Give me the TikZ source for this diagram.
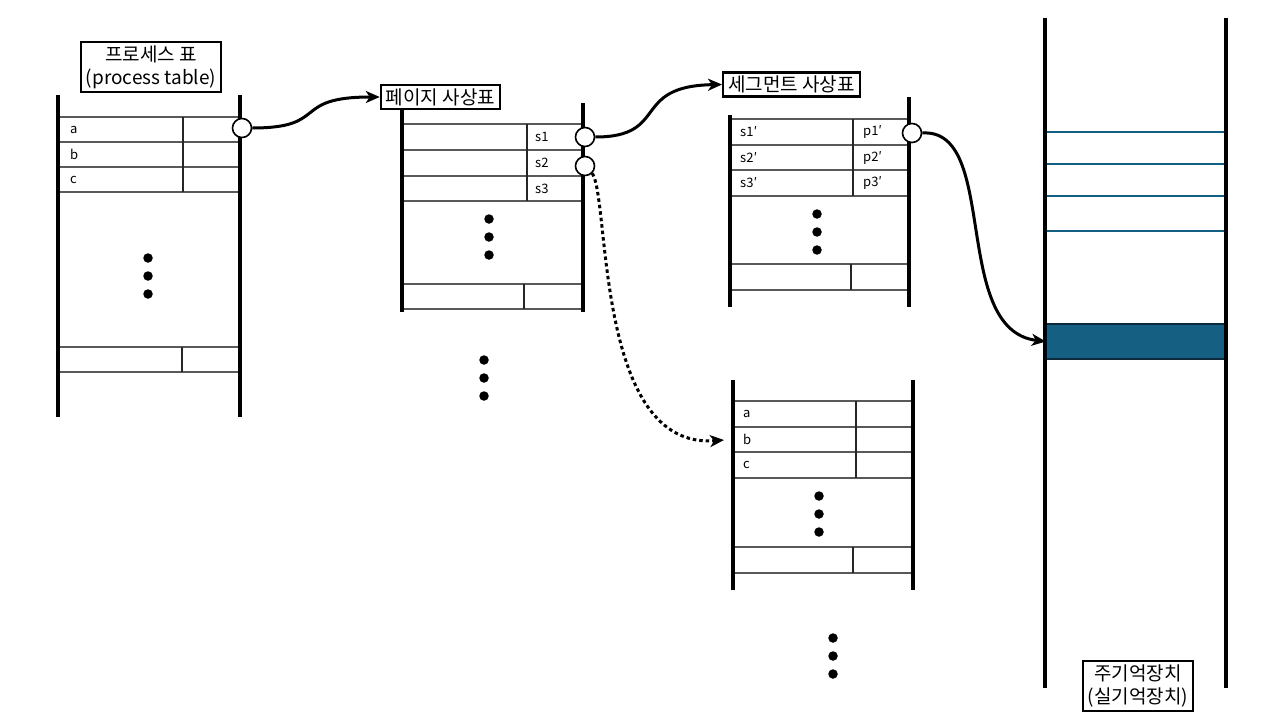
\documentclass[tikz,border=0pt]{standalone}
\usepackage{fontspec}
\setmainfont{Noto Sans CJK KR}
\usetikzlibrary{arrows.meta}
\definecolor{memblue}{HTML}{155F82}
\definecolor{memdark}{HTML}{0D2B3A}
\tikzset{
  rail/.style={line width=4pt},
  rowline/.style={line width=1.3pt, draw=black!65},
  divline/.style={line width=1.1pt, draw=black!85},
  lbl/.style={anchor=west, inner sep=0pt, font=\fontsize{13}{15}\selectfont},
  titlebox/.style={draw, line width=2.3pt, fill=white, align=center, inner xsep=5pt, inner ysep=3.5pt, font=\fontsize{19}{23}\selectfont},
  ring/.style={circle, draw, line width=1.6pt, fill=white, minimum size=19pt, inner sep=0pt},
  dotm/.style={circle, fill=black, minimum size=9.5pt, inner sep=0pt},
  link/.style={line width=3pt, -{Stealth[length=14pt,width=12pt,inset=4pt]}},
  memline/.style={line width=1.8pt, draw=memblue}
}
\begin{document}
\begin{tikzpicture}[x=1pt,y=-1pt]
\useasboundingbox (0,0) rectangle (1280,720);
% ---------- process table ----------
\foreach \yy in {117,142,167,192,347,372} \draw[rowline] (60,\yy) -- (242,\yy);
\draw[divline] (183,117) -- (183,192);
\draw[divline] (182,347) -- (182,372);
\draw[rail] (58,95) -- (58,417);
\draw[rail] (240,95) -- (240,417);
\node[lbl] (pa) at (70,129.5) {a};
\node[lbl] (pb) at (70,154.5) {b};
\node[lbl] (pc) at (70,179.5) {c};
\node[dotm] (pd1) at (148,258) {};
\node[dotm] (pd2) at (148,276) {};
\node[dotm] (pd3) at (148,294) {};
\node[titlebox] (ptitle) at (151,67) {프로세스 표\\(process table)};
\node[ring] (pring) at (242,128) {};
% ---------- page table ----------
\foreach \yy in {124,150,176,201,284,309} \draw[rowline] (404,\yy) -- (583,\yy);
\draw[divline] (527,124) -- (527,201);
\draw[divline] (524,284) -- (524,309);
\draw[rail] (402,110) -- (402,312);
\draw[rail] (583,103) -- (583,312);
\node[lbl] (s1) at (535,137) {s1};
\node[lbl] (s2) at (535,163) {s2};
\node[lbl] (s3) at (535,189) {s3};
\node[dotm] (gd1) at (489,219) {};
\node[dotm] (gd2) at (489,237) {};
\node[dotm] (gd3) at (489,255) {};
\node[titlebox] (gtitle) at (440.5,97) {페이지 사상표};
\node[ring] (gring1) at (585,137) {};
\node[ring] (gring2) at (585,166) {};
\node[dotm] (hd1) at (484,360) {};
\node[dotm] (hd2) at (484,378) {};
\node[dotm] (hd3) at (484,396) {};
% ---------- segment table ----------
\foreach \yy in {119,145,170,196,264,290} \draw[rowline] (732,\yy) -- (911,\yy);
\draw[divline] (853,119) -- (853,196);
\draw[divline] (851,264) -- (851,290);
\draw[rail] (730,115) -- (730,307);
\draw[rail] (909,97) -- (909,307);
\node[lbl] (q1) at (740,132) {s1′};
\node[lbl] (q2) at (740,157.5) {s2′};
\node[lbl] (q3) at (740,183) {s3′};
\node[lbl] (r1) at (863,132) {p1′};
\node[lbl] (r2) at (863,157.5) {p2′};
\node[lbl] (r3) at (863,183) {p3′};
\node[dotm] (sd1) at (817,214) {};
\node[dotm] (sd2) at (817,232) {};
\node[dotm] (sd3) at (817,250) {};
\node[titlebox] (stitle) at (791.5,84.5) {세그먼트 사상표};
\node[ring] (sring) at (912,133) {};
% ---------- second page table ----------
\foreach \yy in {401,427,452,478,547,573} \draw[rowline] (735,\yy) -- (915,\yy);
\draw[divline] (856,401) -- (856,478);
\draw[divline] (853,547) -- (853,573);
\draw[rail] (733,380) -- (733,590);
\draw[rail] (913,380) -- (913,590);
\node[lbl] (ta) at (743,414) {a};
\node[lbl] (tb) at (743,439.5) {b};
\node[lbl] (tc) at (743,465) {c};
\node[dotm] (td1) at (819,496) {};
\node[dotm] (td2) at (819,514) {};
\node[dotm] (td3) at (819,532) {};
\node[dotm] (ud1) at (833,638) {};
\node[dotm] (ud2) at (833,656) {};
\node[dotm] (ud3) at (833,674) {};
\coordinate (tbin) at (724,440);
% ---------- main memory ----------
\foreach \yy in {132,164,196,231} \draw[memline] (1047,\yy) -- (1224,\yy);
\node[draw=memdark, line width=1.5pt, fill=memblue, minimum width=178pt, minimum height=35pt, inner sep=0pt] (mblock) at (1135.5,341.5) {};
\draw[rail] (1045,18) -- (1045,688);
\draw[rail] (1226,18) -- (1226,688);
\node[titlebox] (mtitle) at (1138,686) {주기억장치\\(실기억장치)};
% ---------- connectors ----------
\draw[link] (pring.east) .. controls (330,128) and (290,97) .. (gtitle.west);
\draw[link] (gring1.east) .. controls (670,137) and (630,86) .. (stitle.west);
\draw[link] (sring.east) .. controls (1000,128) and (950,330) .. (mblock.west);
\draw[link, dash pattern=on 3.5pt off 3pt] (gring2.south east) .. controls (610,200) and (595,450) .. (tbin);
\end{tikzpicture}
\end{document}
